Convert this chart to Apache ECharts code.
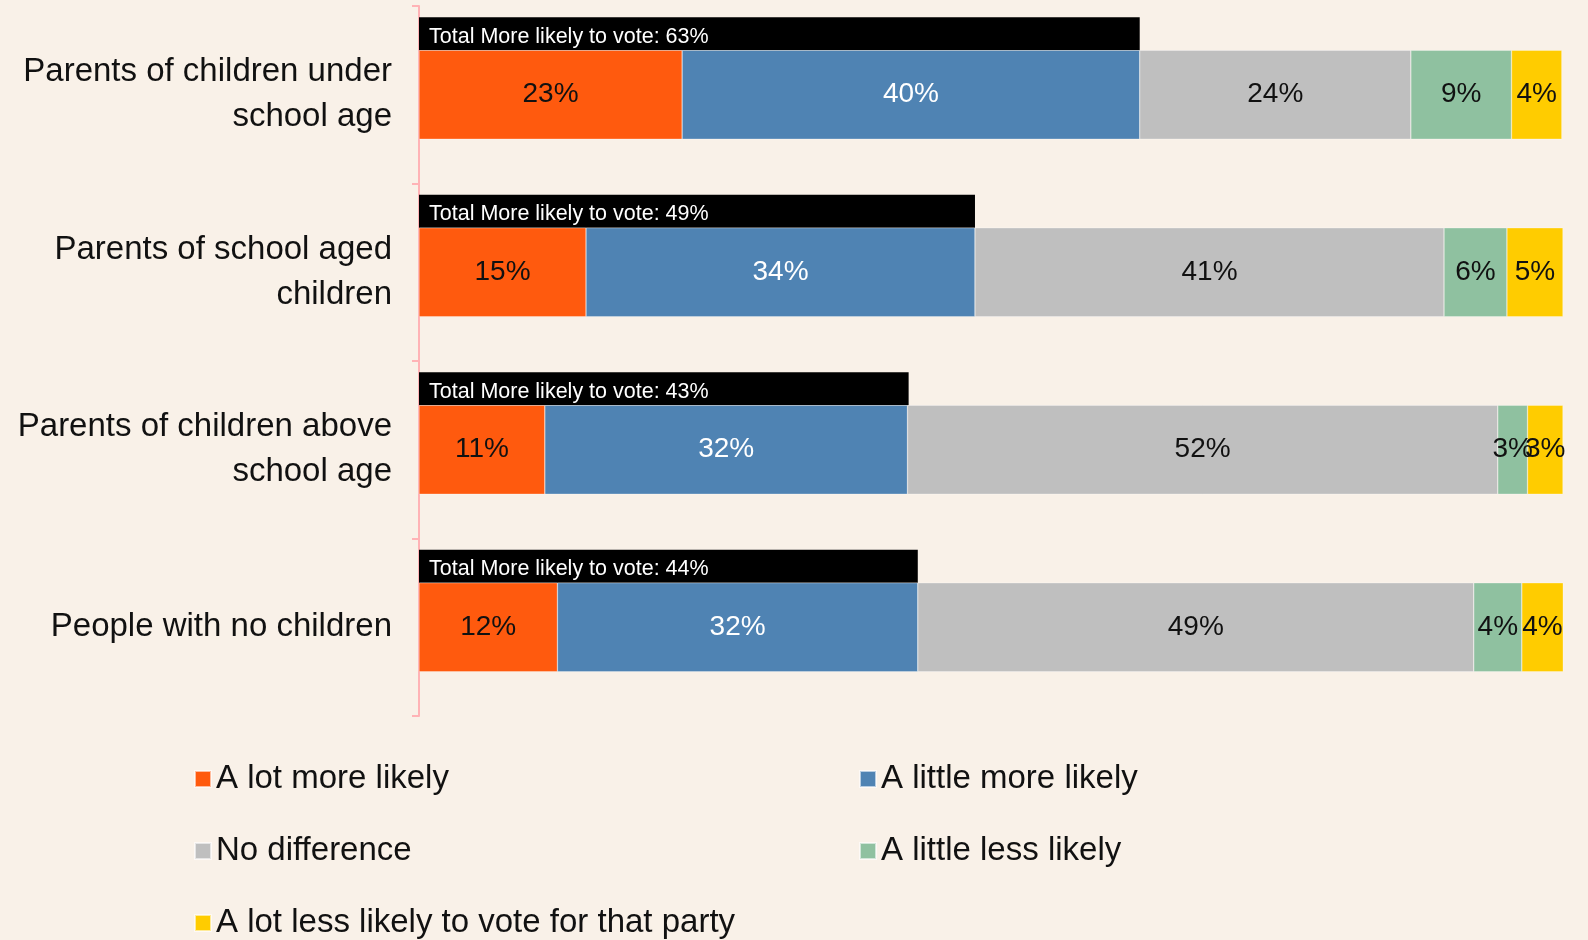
<!DOCTYPE html>
<html>
<head>
<meta charset="utf-8">
<script src="https://cdn.jsdelivr.net/npm/echarts@6/dist/echarts.min.js"></script>
<style>
html,body{margin:0;padding:0;background:#F9F1E8;}
#chart{width:1588px;height:940px;}
</style>
</head>
<body>
<div id="chart"></div>
<script>
const categories = [
  "Parents of children under\nschool age",
  "Parents of school aged\nchildren",
  "Parents of children above\nschool age",
  "People with no children"
];
const seriesNames = [
  "A lot more likely",
  "A little more likely",
  "No difference",
  "A little less likely",
  "A lot less likely to vote for that party"
];
const aLotMore   = [23.0, 14.6, 11.0, 12.1];
const aLittleMore= [40.0, 34.0, 31.7, 31.5];
const noDiff     = [23.7, 41.0, 51.6, 48.6];
const aLittleLess= [8.8, 5.5, 2.6, 4.2];
const aLotLess   = [4.4, 4.9, 3.1, 3.7];
const totalMore  = [63.0, 48.6, 42.8, 43.6];
const totalLabel = "Total More likely to vote: ";

const colors = ["#FF5A0E", "#4F83B3", "#BFBFBF", "#8FC1A0", "#FFCC00"];
const labelColors = ["#111", "#fff", "#111", "#111", "#111"];
const values = [aLotMore, aLittleMore, noDiff, aLittleLess, aLotLess];
const FONT = "'Liberation Sans', Arial, sans-serif";

const chart = echarts.init(document.getElementById('chart'));

const stackSeries = seriesNames.map((name, i) => ({
  name: name,
  type: 'bar',
  stack: 'main',
  barWidth: 89,
  barGap: '0%',
  data: values[i],
  itemStyle: { color: colors[i], borderColor: 'rgba(255,255,255,0.6)', borderWidth: 0.5 },
  label: {
    show: true,
    position: 'inside',
    color: labelColors[i],
    fontFamily: FONT,
    fontSize: 28,
    formatter: p => Math.round(p.value) + '%'
  },
  emphasis: { disabled: true },
  z: 2
}));

const legendBase = {
  orient: 'vertical',
  top: 762,
  height: 178,
  padding: 0,
  icon: 'rect', itemWidth: 16, itemHeight: 16,
  itemGap: 38,
  textStyle: { fontFamily: FONT, fontSize: 33, color: '#111', lineHeight: 34 },
  selectedMode: false
};

const option = {
  backgroundColor: '#F9F1E8',
  animation: false,
  grid: { left: 419, right: 25, top: 6, bottom: 224, containLabel: false },
  xAxis: {
    type: 'value', min: 0, max: 100,
    show: false
  },
  yAxis: {
    type: 'category',
    inverse: true,
    data: categories,
    axisLine: { show: true, lineStyle: { color: '#FFB3B6', width: 2 } },
    axisTick: { show: true, length: 7, lineStyle: { color: '#FFB3B6', width: 2 } },
    axisLabel: {
      margin: 27,
      color: '#111',
      fontFamily: FONT,
      fontSize: 33,
      lineHeight: 45,
      align: 'right'
    },
    splitLine: { show: false }
  },
  legend: [
    Object.assign({}, legendBase, { left: 194, data: [seriesNames[0], seriesNames[2], seriesNames[4]] }),
    Object.assign({}, legendBase, { left: 859, data: [seriesNames[1], seriesNames[3]] })
  ],
  series: [
    {
      name: 'Total',
      type: 'bar',
      stack: 'total',
      barWidth: 33,
      barGap: '0%',
      data: totalMore,
      itemStyle: { color: '#000' },
      label: {
        show: true,
        position: 'insideLeft',
        distance: 10,
        offset: [0, 3],
        color: '#fff',
        fontFamily: FONT,
        fontSize: 21.5,
        formatter: p => totalLabel + Math.round(p.value) + '%'
      },
      emphasis: { disabled: true }
    },
    ...stackSeries,
    {
      name: 'pad',
      type: 'bar',
      stack: 'pad',
      barWidth: 33,
      barGap: '0%',
      data: totalMore.map(() => 0),
      itemStyle: { color: 'rgba(0,0,0,0)' },
      silent: true
    }
  ]
};
chart.setOption(option);
</script>
</body>
</html>
